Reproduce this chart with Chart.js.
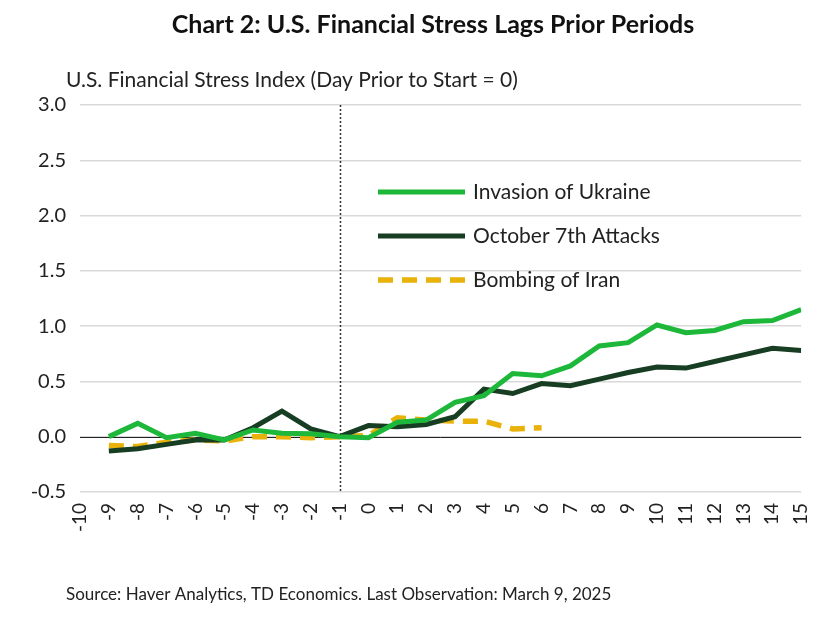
<!DOCTYPE html>
<html><head><meta charset="utf-8">
<script src="https://cdn.jsdelivr.net/npm/chart.js@4"></script>
<style>html,body{margin:0;padding:0;background:#fff}#wrap{width:827px;height:617px;position:relative}</style>
</head><body><div id="wrap"><canvas id="c" width="827" height="617"></canvas></div>
<script>
const days = [-9,-8,-7,-6,-5,-4,-3,-2,-1,0,1,2,3,4,5,6,7,8,9,10,11,12,13,14,15];
const ukraine = [0,0.12,-0.01,0.03,-0.03,0.06,0.03,0.025,0,-0.01,0.13,0.15,0.31,0.37,0.57,0.55,0.64,0.82,0.85,1.01,0.94,0.96,1.04,1.05,1.15];
const october = [-0.13,-0.11,-0.07,-0.03,-0.03,0.08,0.23,0.07,0,0.1,0.09,0.11,0.18,0.43,0.39,0.48,0.46,0.52,0.58,0.63,0.62,0.68,0.74,0.8,0.78];
const iranDays = [-9,-8,-7,-6,-5,-4,-3,-2,-1,0,1,2,3,4,5,6];
const iran = [-0.08,-0.09,-0.05,-0.03,-0.04,0,0,-0.01,0,0.01,0.17,0.15,0.14,0.14,0.07,0.08];
const seriesNames = ['Invasion of Ukraine','October 7th Attacks','Bombing of Iran'];
const F = 'Lato, "Noto Sans", sans-serif';
const pts = (xs, ys) => xs.map((x,i)=>({x, y: ys[i]}));
const extras = {
  id:'extras',
  beforeDatasetsDraw(ch){
    const {ctx, chartArea:a, scales:{x,y}} = ch;
    ctx.save();
    ctx.strokeStyle='#333'; ctx.lineWidth=1.5; ctx.setLineDash([2,2]);
    const px = Math.round(x.getPixelForValue(-1))+0.5;
    ctx.beginPath(); ctx.moveTo(px,a.top); ctx.lineTo(px,a.bottom); ctx.stroke();
    ctx.setLineDash([]); ctx.strokeStyle='#222'; ctx.lineWidth=1;
    const py = Math.round(y.getPixelForValue(0))+0.5;
    ctx.beginPath(); ctx.moveTo(a.left,py); ctx.lineTo(a.right,py); ctx.stroke();
    ctx.restore();
  },
  afterDraw(ch){
    const {ctx} = ch;
    ctx.save();
    ch.data.datasets.forEach((d,i)=>{
      const yy = 192 + i*44;
      ctx.strokeStyle=d.borderColor; ctx.lineWidth=d.borderWidth;
      ctx.setLineDash(d.borderDash||[]);
      ctx.beginPath(); ctx.moveTo(378,yy); ctx.lineTo(465,yy); ctx.stroke();
      ctx.setLineDash([]);
      ctx.fillStyle='#222'; ctx.font='21px '+F; ctx.textBaseline='middle';
      ctx.fillText(d.label, 473, yy);
    });
    ctx.fillStyle='#111'; ctx.font='bold 25px '+F; ctx.textAlign='center'; ctx.textBaseline='middle';
    ctx.fillText('Chart 2: U.S. Financial Stress Lags Prior Periods', 433, 25);
    ctx.font='21px '+F; ctx.textAlign='left'; ctx.fillStyle='#222';
    ctx.fillText('U.S. Financial Stress Index (Day Prior to Start = 0)', 66, 80);
    ctx.font='17px '+F;
    ctx.fillText('Source: Haver Analytics, TD Economics. Last Observation: March 9, 2025', 66, 595);
    ctx.restore();
  }
};
new Chart(document.getElementById('c'), {
  type:'line',
  data:{datasets:[
    {label:seriesNames[0], data:pts(days,ukraine), borderColor:'#1db83a', borderWidth:5, pointRadius:0, tension:0},
    {label:seriesNames[1], data:pts(days,october), borderColor:'#173d22', borderWidth:5, pointRadius:0, tension:0},
    {label:seriesNames[2], data:pts(iranDays,iran), borderColor:'#e8b20a', borderWidth:5.5, borderDash:[15,9], pointRadius:0, tension:0}
  ]},
  options:{
    responsive:false, animation:false,
    layout:{padding:{top:105,left:0,right:22,bottom:82}},
    plugins:{legend:{display:false}, tooltip:{enabled:false}},
    scales:{
      x:{type:'linear', min:-10, max:15, grid:{display:false}, border:{display:false},
         ticks:{stepSize:1, autoSkip:false, maxRotation:90, minRotation:90, color:'#222', font:{size:19,family:F}}},
      y:{min:-0.5, max:3, grid:{color:'#d9d9d9', lineWidth:1.5, drawTicks:false}, border:{display:false},
         afterFit(s){s.width=80;},
         ticks:{stepSize:0.5, padding:14, color:'#222', font:{size:20,family:F}, callback:v=>v.toFixed(1)}}
    }
  },
  plugins:[extras]
});
</script></body></html>
